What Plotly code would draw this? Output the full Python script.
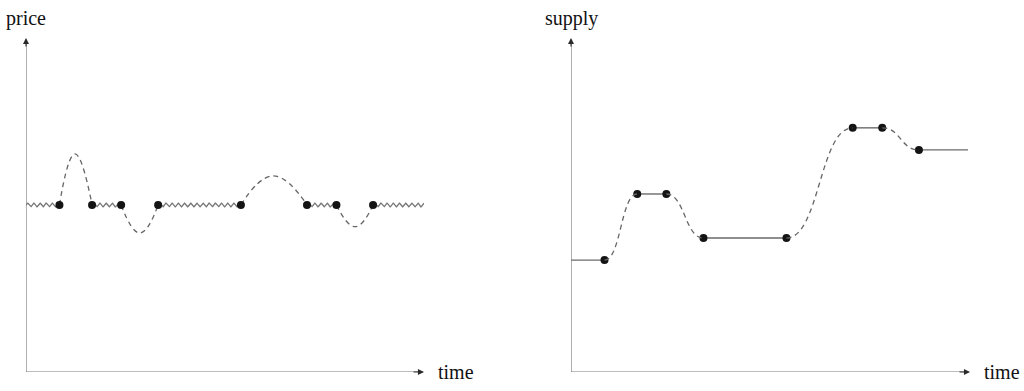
import numpy as np
import plotly.graph_objects as go

# ---- data (time in % of axis length, values in % of axis height) ----
switch_times = [8.4, 16.6, 23.9, 33.2, 54.0, 70.6, 78.0, 87.2]
time_end_left = 100.0
time_end_right = 99.5

price_base = 50.0
price_excursion_times = [12.3, 28.6, 62.1, 82.7]
price_excursion_values = [65.3, 41.6, 58.7, 43.5]

supply_levels = [33.5, 53.3, 40.1, 73.1, 66.5]

W, H = 1024, 391
fig = go.Figure()

left_x0, left_x1 = 26, 424
right_x0, right_x1 = 571, 970
y_bot, y_top = 372, 38
ydom = [(H - y_bot) / H, (H - y_top) / H]

fig.update_layout(
    width=W, height=H, margin=dict(l=0, r=0, t=0, b=0),
    paper_bgcolor="white", plot_bgcolor="white", showlegend=False,
    xaxis=dict(domain=[left_x0 / W, left_x1 / W], range=[0, 100], visible=False),
    yaxis=dict(domain=ydom, range=[0, 100], visible=False),
    xaxis2=dict(domain=[right_x0 / W, right_x1 / W], range=[0, 100], visible=False),
    yaxis2=dict(domain=ydom, range=[0, 100], visible=False, anchor="x2"),
)

WAVE_COLOR = "#767676"
DASH_COLOR = "#666666"
SOLID_COLOR = "#6a6a6a"
DOT_COLOR = "#141414"
AXIS_COLOR = "#7a7a7a"
HEAD_COLOR = "#2a2a2a"


def squiggle(x0, x1, y, period=1.55, amp=0.55):
    n = max(int((x1 - x0) / period * 16), 8)
    xs = np.linspace(x0, x1, n)
    ys = y + amp * np.sin(2 * np.pi * (xs - x0) / period)
    return xs, ys


# ---- left panel: price ----
bounds = [0.0] + switch_times + [time_end_left]
for i in range(0, len(bounds), 2):
    xs, ys = squiggle(bounds[i], bounds[i + 1], price_base)
    fig.add_trace(go.Scatter(x=xs, y=ys, mode="lines", xaxis="x", yaxis="y",
                             line=dict(color=WAVE_COLOR, width=1.3), hoverinfo="skip"))

for k in range(4):
    a, b = switch_times[2 * k], switch_times[2 * k + 1]
    fig.add_trace(go.Scatter(
        x=[a, price_excursion_times[k], b],
        y=[price_base, price_excursion_values[k], price_base],
        mode="lines", xaxis="x", yaxis="y",
        line=dict(color=DASH_COLOR, width=1.3, dash="5px,4px", shape="spline", smoothing=1.3),
        hoverinfo="skip"))

fig.add_trace(go.Scatter(x=switch_times, y=[price_base] * len(switch_times), mode="markers",
                         xaxis="x", yaxis="y",
                         marker=dict(color=DOT_COLOR, size=8), hoverinfo="skip"))

# ---- right panel: supply ----
seg_bounds = [0.0] + switch_times + [time_end_right]
for j, lvl in enumerate(supply_levels):
    fig.add_trace(go.Scatter(x=[seg_bounds[2 * j], seg_bounds[2 * j + 1]], y=[lvl, lvl],
                             mode="lines", xaxis="x2", yaxis="y2",
                             line=dict(color=SOLID_COLOR, width=1.4), hoverinfo="skip"))

for j in range(4):
    x0, y0 = switch_times[2 * j], supply_levels[j]
    x1, y1 = switch_times[2 * j + 1], supply_levels[j + 1]
    dx = x1 - x0
    path = f"M {x0},{y0} C {x0 + 0.5 * dx},{y0} {x1 - 0.5 * dx},{y1} {x1},{y1}"
    fig.add_shape(type="path", path=path, xref="x2", yref="y2",
                  line=dict(color=DASH_COLOR, width=1.3, dash="5px,4px"))

dot_y = []
for j in range(4):
    dot_y += [supply_levels[j], supply_levels[j + 1]]
fig.add_trace(go.Scatter(x=switch_times, y=dot_y, mode="markers", xaxis="x2", yaxis="y2",
                         marker=dict(color=DOT_COLOR, size=8), hoverinfo="skip"))

# ---- axes: grey lines with dark arrow heads ----
for xr, yr in [("x", "y"), ("x2", "y2")]:
    fig.add_trace(go.Scatter(x=[0, 0, 99], y=[99, 0, 0], mode="lines", xaxis=xr, yaxis=yr,
                             line=dict(color=AXIS_COLOR, width=1.2), hoverinfo="skip"))
    for hx, hy, tx, ty in [(100, 0, 97, 0), (0, 100, 0, 97)]:
        fig.add_annotation(x=hx, y=hy, ax=tx, ay=ty, xref=xr, yref=yr, axref=xr, ayref=yr,
                           text="", showarrow=True, arrowhead=2, arrowsize=1.1,
                           arrowwidth=1.1, arrowcolor=HEAD_COLOR, standoff=0, startstandoff=0)

FONT = dict(family="Liberation Serif, Times New Roman, serif", size=20, color="#111111")
fig.add_annotation(x=0, y=100, xref="x", yref="y", text="price", showarrow=False,
                   yshift=6, yanchor="bottom", font=FONT)
fig.add_annotation(x=0, y=100, xref="x2", yref="y2", text="supply", showarrow=False,
                   yshift=6, yanchor="bottom", font=FONT)
fig.add_annotation(x=100, y=0, xref="x", yref="y", text="time", showarrow=False,
                   xshift=12, xanchor="left", font=FONT)
fig.add_annotation(x=100, y=0, xref="x2", yref="y2", text="time", showarrow=False,
                   xshift=12, xanchor="left", font=FONT)

fig.write_html("out.html")
